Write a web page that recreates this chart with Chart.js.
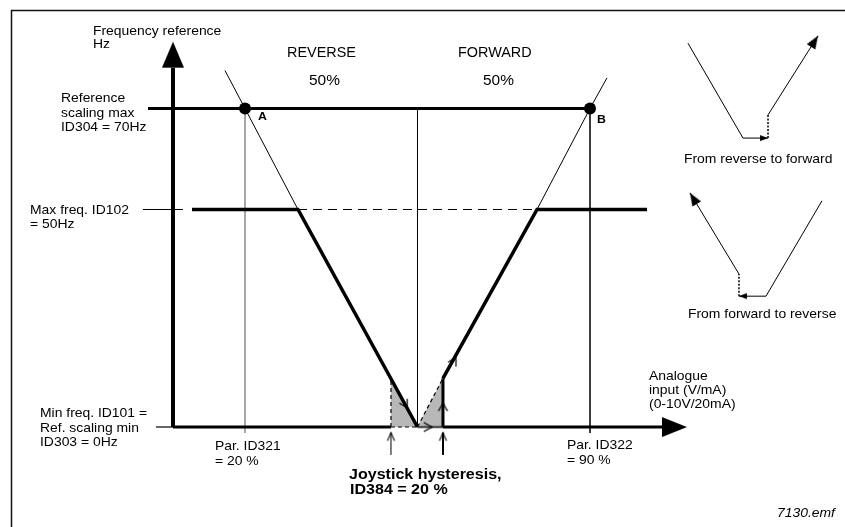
<!DOCTYPE html>
<html>
<head>
<meta charset="utf-8">
<title>Joystick hysteresis</title>
<script src="https://cdn.jsdelivr.net/npm/chart.js@4/dist/chart.umd.min.js"></script>
<style>
  html, body { margin: 0; padding: 0; background: #fff; }
  canvas { display: block; }
</style>
</head>
<body>
<canvas id="diagram" width="845" height="527"></canvas>
<script>
// x = analogue input in %, y = frequency reference in Hz
const refMax = 70;     // ID304
const maxFreq = 50;    // ID102
const minFreq = 0;     // ID101 / ID303
const parA = 20;       // ID321
const parB = 90;       // ID322
const centre = 55;

const yAxis = [{x: 5.39, y: 0}, {x: 5.39, y: 78.06}];
const yAxisTip = [{x: 5.39, y: 83.23}];
const xAxisStub = [{x: 1.94, y: 0}, {x: 5.39, y: 0}];
const xAxisLeft = [{x: 5.39, y: 0}, {x: 49.62, y: 0}];
const xAxisDead = [{x: 49.62, y: 0}, {x: 55, y: 0}];
const xAxisHyst = [{x: 55, y: 0}, {x: 60.17, y: 0}];
const xAxisRight = [{x: 60.17, y: 0}, {x: 104.61, y: 0}];
const xAxisTip = [{x: 109.68, y: 0}];

const refMaxLine = [{x: 0.32, y: refMax}, {x: parB, y: refMax}];
const centreLine = [{x: centre, y: minFreq}, {x: centre, y: refMax}];
const dropA = [{x: parA, y: refMax}, {x: parA, y: -1.38}];
const dropB = [{x: parB, y: refMax}, {x: parB, y: -1.38}];
const maxFreqLeader = [{x: -0.70, y: maxFreq}, {x: 7.42, y: maxFreq}];
const maxFreqGap = [{x: 30.75, y: maxFreq}, {x: 79.25, y: maxFreq}];

const reverseScale = [{x: 15.94, y: 77.52}, {x: parA, y: refMax}, {x: 30.75, y: maxFreq}];
const reverseOut = [{x: 9.25, y: maxFreq}, {x: 30.75, y: maxFreq}, {x: centre, y: minFreq}];
const forwardScale = [{x: 79.25, y: maxFreq}, {x: parB, y: refMax}, {x: 93.45, y: 76.07}];
const forwardOut = [{x: 60.17, y: 11.2}, {x: 79.25, y: maxFreq}, {x: 101.57, y: maxFreq}];

const hystLeft = [{x: 49.62, y: 11.1}, {x: centre, y: 0}];
const hystRight = [{x: centre, y: 0}, {x: 60.17, y: 11.2}];
const hystLeftEdge = [{x: 49.62, y: 0}, {x: 49.62, y: 11.1}];
const hystRightEdge = [{x: 60.17, y: 0}, {x: 60.17, y: 11.2}];
const markLeft = [{x: 49.62, y: -6.42}, {x: 49.62, y: -1.31}];
const markRight = [{x: 60.17, y: -6.42}, {x: 60.17, y: -1.31}];
const flowMarks = [{x: 52.9, y: 4.4}, {x: 57.9, y: 0}, {x: 60.17, y: 5.5}, {x: 62.8, y: 16.0}];
const markTips = [{x: 49.62, y: -1.31}, {x: 60.17, y: -1.31}];
const scalingPoints = [{x: parA, y: refMax}, {x: parB, y: refMax}];

// small sketches on the right, y in % of the picture height
const revToFwdA = [{x: 109.88, y: 91.8}, {x: 121.04, y: 73.8}, {x: 126.12, y: 73.8}];
const revToFwdStep = [{x: 126.12, y: 73.8}, {x: 126.12, y: 78.2}];
const revToFwdB = [{x: 126.12, y: 78.2}, {x: 136.26, y: 93.2}];
const fwdToRevA = [{x: 137.07, y: 61.9}, {x: 125.71, y: 43.8}, {x: 120.23, y: 43.8}];
const fwdToRevStep = [{x: 120.23, y: 43.8}, {x: 120.23, y: 48.0}];
const fwdToRevB = [{x: 120.23, y: 48.0}, {x: 110.29, y: 63.4}];

// Hz scale bent at the knots, the drawing is not to scale
const HZ_KNOTS = [0, 50, 70];
const HZ_AT = [0.18975, 0.60247, 0.79412];

class BentScale extends Chart.LinearScale {
  static id = 'bent';
  static defaults = {};
  getPixelForValue(v) {
    const i = v < HZ_KNOTS[1] ? 0 : 1;
    const t = (v - HZ_KNOTS[i]) / (HZ_KNOTS[i + 1] - HZ_KNOTS[i]);
    return this.getPixelForDecimal(HZ_AT[i] + t * (HZ_AT[i + 1] - HZ_AT[i]));
  }
  getValueForPixel(p) {
    const d = this._reversePixels ? 1 - (p - this._startPixel) / this._length : (p - this._startPixel) / this._length;
    const i = d < HZ_AT[1] ? 0 : 1;
    const t = (d - HZ_AT[i]) / (HZ_AT[i + 1] - HZ_AT[i]);
    return HZ_KNOTS[i] + t * (HZ_KNOTS[i + 1] - HZ_KNOTS[i]);
  }
}
Chart.register(BentScale);

// arrow heads as point images, tip sits on the point
function head(len, width, filled, lw) {
  const c = document.createElement('canvas');
  c.width = Math.ceil(len * 2 + 4);
  c.height = Math.ceil(width + 4);
  const g = c.getContext('2d');
  const cx = c.width / 2, cy = c.height / 2;
  g.beginPath();
  g.moveTo(cx - len, cy - width / 2);
  g.lineTo(cx, cy);
  g.lineTo(cx - len, cy + width / 2);
  if (filled) {
    g.closePath();
    g.fillStyle = '#000';
    g.fill();
  } else {
    g.lineWidth = lw || 1;
    g.strokeStyle = '#000';
    g.stroke();
  }
  return c;
}

const bigHeadY = head(26, 22, true);
const bigHeadX = head(25, 20, true);
const chevron = head(8, 9, false, 1.3);
const tipHead = head(8, 7, false, 1.1);
const sketchHead = head(13, 10, true);
const stepHead = head(8, 6, true);

function line(data, opts) {
  return Object.assign({
    data: data,
    showLine: true,
    pointRadius: 0,
    borderColor: '#000',
    borderWidth: 1,
    fill: false,
    clip: false,
    xAxisID: 'x',
    yAxisID: 'y'
  }, opts || {});
}

function marks(data, style, rotation, opts) {
  return Object.assign({
    data: data,
    showLine: false,
    pointRadius: 4,
    pointStyle: style,
    pointRotation: rotation,
    clip: false,
    xAxisID: 'x',
    yAxisID: 'y'
  }, opts || {});
}

// listed bottom first
const layers = [
  line(hystLeft, {borderWidth: 0, fill: {value: 0}, backgroundColor: '#b8b8b8'}),
  line(hystRight, {borderWidth: 0, fill: {value: 0}, backgroundColor: '#b8b8b8'}),
  line(dropA, {borderColor: '#8a8a8a', borderWidth: 1.5}),
  line(dropB, {borderColor: '#222', borderWidth: 1}),
  line(centreLine, {borderWidth: 1}),
  line(maxFreqLeader, {borderWidth: 1}),
  line(maxFreqGap, {borderWidth: 1, borderDash: [9, 6]}),
  line(reverseScale, {borderWidth: 1}),
  line(forwardScale, {borderWidth: 1}),
  line(hystLeftEdge, {borderWidth: 1.2, borderDash: [4, 3]}),
  line(hystRight, {borderWidth: 1.2, borderDash: [4, 3]}),
  line(xAxisStub, {borderWidth: 1.2}),
  line(xAxisLeft, {borderWidth: 3}),
  line(xAxisDead, {borderWidth: 1.2, borderDash: [4, 3]}),
  line(xAxisHyst, {borderWidth: 2.5, borderColor: '#555'}),
  line(xAxisRight, {borderWidth: 3}),
  line(yAxis, {borderWidth: 4}),
  line(refMaxLine, {borderWidth: 3}),
  line(reverseOut, {borderWidth: 3.5}),
  line(forwardOut, {borderWidth: 3.5}),
  line(hystRightEdge, {borderWidth: 3}),
  line(markLeft, {borderWidth: 1}),
  line(markRight, {borderWidth: 2}),
  marks(markTips, tipHead, -90),
  marks(flowMarks, chevron, [61, 0, -90, -61]),
  marks(yAxisTip, bigHeadY, -90),
  marks(xAxisTip, bigHeadX, 0),
  marks(scalingPoints, 'circle', 0, {pointRadius: 6, pointBackgroundColor: '#000', pointBorderWidth: 0}),

  line(revToFwdA, {yAxisID: 'yi'}),
  line(revToFwdStep, {yAxisID: 'yi', borderWidth: 1.5, borderDash: [2, 1.5]}),
  line(revToFwdB, {yAxisID: 'yi'}),
  marks([revToFwdA[2]], stepHead, 0, {yAxisID: 'yi'}),
  marks([revToFwdB[1]], sketchHead, -57.7, {yAxisID: 'yi'}),
  line(fwdToRevA, {yAxisID: 'yi'}),
  line(fwdToRevStep, {yAxisID: 'yi', borderWidth: 1.5, borderDash: [2, 1.5]}),
  line(fwdToRevB, {yAxisID: 'yi'}),
  marks([fwdToRevA[2]], stepHead, 180, {yAxisID: 'yi'}),
  marks([fwdToRevB[1]], sketchHead, -121.2, {yAxisID: 'yi'})
];
layers.forEach((d, i) => { d.order = layers.length - i; });

const FONT = '"Liberation Sans", Arial, sans-serif';
const labels = [
  ['Frequency reference', 93, 35, 13.5],
  ['Hz', 93, 48, 13.5],
  ['Reference', 61, 102, 13.5],
  ['scaling max', 61, 116.5, 13.5],
  ['ID304 = 70Hz', 61, 131, 13.5],
  ['Max freq. ID102', 30, 214, 13.5],
  ['= 50Hz', 30, 228, 13.5],
  ['Min freq. ID101 =', 40, 417, 13.5],
  ['Ref. scaling min', 40, 431.5, 13.5],
  ['ID303 = 0Hz', 40, 446, 13.5],
  ['Par. ID321', 215, 450, 13.5],
  ['= 20 %', 215, 464.5, 13.5],
  ['Par. ID322', 567, 449, 13.5],
  ['= 90 %', 567, 463.5, 13.5],
  ['Analogue', 649, 380, 13.5],
  ['input (V/mA)', 649, 394, 13.5],
  ['(0-10V/20mA)', 649, 408, 13.5],
  ['REVERSE', 287, 57, 14],
  ['50%', 309, 85, 15],
  ['FORWARD', 458, 57, 14],
  ['50%', 483, 85, 15],
  ['From reverse to forward', 684, 163, 13.5],
  ['From forward to reverse', 688, 318, 13.5]
];
const boldLabels = [
  ['A', 258, 120, 11.5],
  ['B', 597, 123, 11.5],
  ['Joystick hysteresis,', 349, 479, 15],
  ['ID384 = 20 %', 350, 494, 15]
];

const sheet = {
  id: 'sheet',
  beforeDraw(chart) {
    const ctx = chart.ctx;
    ctx.save();
    ctx.fillStyle = '#fff';
    ctx.fillRect(0, 0, chart.width, chart.height);
    ctx.strokeStyle = '#111';
    ctx.lineWidth = 1.5;
    ctx.strokeRect(11.5, 10.5, 900, 600);
    ctx.restore();
  },
  afterDraw(chart) {
    const ctx = chart.ctx;
    ctx.save();
    ctx.fillStyle = '#000';
    ctx.textBaseline = 'alphabetic';
    const put = (t, x, y, font, sx) => {
      ctx.save();
      ctx.translate(x, y);
      ctx.scale(sx, 1);
      ctx.font = font;
      ctx.fillText(t, 0, 0);
      ctx.restore();
    };
    labels.forEach(([t, x, y, s]) => put(t, x, y, s + 'px ' + FONT, 1.03));
    boldLabels.forEach(([t, x, y, s]) => put(t, x, y, 'bold ' + s + 'px ' + FONT, 1.07));
    put('7130.emf', 777, 517, 'italic 13.5px ' + FONT, 1.03);
    ctx.restore();
  }
};

new Chart(document.getElementById('diagram'), {
  type: 'scatter',
  data: { datasets: layers },
  options: {
    responsive: false,
    animation: false,
    devicePixelRatio: 1,
    layout: { padding: 0, autoPadding: false },
    events: [],
    plugins: {
      legend: { display: false },
      tooltip: { enabled: false }
    },
    scales: {
      x: { type: 'linear', min: -29.71, max: 141.74, display: false },
      y: { type: 'bent', min: -20, max: 90, display: false },
      yi: { type: 'linear', position: 'right', min: 0, max: 100, display: false }
    }
  },
  plugins: [sheet]
});
</script>
</body>
</html>
